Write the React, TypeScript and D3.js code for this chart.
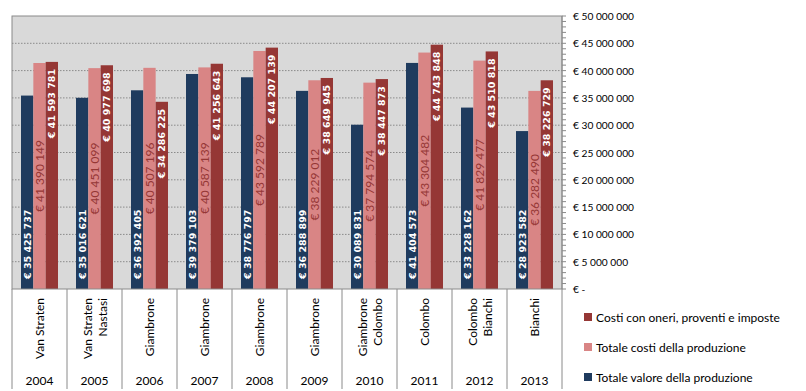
import React from "react";
import * as d3 from "d3";

const years = ["2004", "2005", "2006", "2007", "2008", "2009", "2010", "2011", "2012", "2013"];
const names: string[][] = [
  ["Van Straten"],
  ["Van Straten", "Nastasi"],
  ["Giambrone"],
  ["Giambrone"],
  ["Giambrone"],
  ["Giambrone"],
  ["Giambrone", "Colombo"],
  ["Colombo"],
  ["Colombo", "Bianchi"],
  ["Bianchi"],
];
const valoreProduzione = [35425737, 35016621, 36392405, 39379103, 38776797, 36288899, 30089831, 41404573, 33228162, 28923582];
const costiProduzione = [41390149, 40451099, 40507196, 40587139, 43592789, 38229012, 37794574, 43304482, 41829477, 36282490];
const costiOneri = [41593781, 40977698, 34286225, 41256643, 44207139, 38649945, 38447873, 44743848, 43510818, 38226729];
const seriesNames = ["Totale valore della produzione", "Totale costi della produzione", "Costi con oneri, proventi e imposte"];
const yTicks = [0, 5e6, 10e6, 15e6, 20e6, 25e6, 30e6, 35e6, 40e6, 45e6, 50e6];

const W = 806, H = 391;
const L = 12, R = 562, T = 16, B = 289;
const colors = ["#1F3B5E", "#D98585", "#953735"];
const FONT = "Lato, 'Liberation Sans', sans-serif";
const BOLDFONT = "'DejaVu Sans', Verdana, sans-serif";

function fmt(v: number) {
  if (v === 0) return "€ -";
  const s = Math.round(v).toString().replace(/\B(?=(\d{3})+(?!\d))/g, " ");
  return "€ " + s;
}

export default function App() {
  const x0 = d3.scaleBand<string>().domain(years).range([L, R]).padding(0);
  const x1 = d3.scaleBand<number>().domain([0, 1, 2]).range([9, x0.bandwidth() - 9]).padding(0);
  const y = d3.scaleLinear().domain([0, 50e6]).range([B, T]);
  const series = [valoreProduzione, costiProduzione, costiOneri];
  const minorTicks = d3.range(0, 50e6 + 1, 1e6);

  return (
    <svg width={W} height={H} style={{ position: "absolute", left: 0, top: 0 }} fontFamily={FONT}>
      <rect x={0} y={0} width={W} height={H} fill="#fff" />
      <rect x={L} y={T} width={R - L} height={B - T} fill="#D9D9D9" />
      {yTicks.slice(1, -1).map((t) => (
        <line key={t} x1={L} x2={R} y1={y(t)} y2={y(t)} stroke="#8a8a8a" strokeWidth={1} strokeDasharray="1.5,1.5" />
      ))}
      {years.map((yr, i) =>
        series.map((s, k) => {
          const bx = (x0(yr) as number) + (x1(k) as number);
          const bw = x1.bandwidth();
          const v = s[i];
          const top = y(v);
          const cx = bx + bw / 2;
          let ly: number, anchor: string, fill: string, weight: string, family: string, size: number;
          if (k === 0) {
            ly = B - 10; anchor = "start"; fill = "#fff"; weight = "bold"; family = BOLDFONT; size = 9.5;
          } else if (k === 1) {
            ly = (top + B) / 2; anchor = "middle"; fill = "#953735"; weight = "normal"; family = FONT; size = 12;
          } else {
            ly = top + 7; anchor = "end"; fill = "#fff"; weight = "bold"; family = BOLDFONT; size = 9.5;
          }
          return (
            <g key={yr + k}>
              <rect x={bx} y={top} width={bw} height={B - top} fill={colors[k]} />
              <text
                transform={`translate(${cx},${ly}) rotate(-90)`}
                textAnchor={anchor}
                dominantBaseline="central"
                fontSize={size}
                fontWeight={weight}
                fontFamily={family}
                fill={fill}
              >
                {fmt(v)}
              </text>
            </g>
          );
        })
      )}
      <rect x={L} y={T} width={R - L} height={B - T} fill="none" stroke="#8a8a8a" strokeWidth={1} />
      {/* right axis */}
      <line x1={R} x2={R} y1={T} y2={389} stroke="#8a8a8a" />
      {minorTicks.map((t) => (
        <line key={t} x1={R} x2={R + 4} y1={y(t)} y2={y(t)} stroke="#8a8a8a" />
      ))}
      {yTicks.map((t) => (
        <text key={t} x={573} y={y(t)} dominantBaseline="central" fontSize={10.2} fill="#000">
          {fmt(t)}
        </text>
      ))}
      {/* category axis */}
      {years.map((yr) => (
        <line key={yr} x1={x0(yr) as number} x2={x0(yr) as number} y1={B} y2={389} stroke="#8a8a8a" />
      ))}
      {years.map((yr, i) => {
        const cx = (x0(yr) as number) + x0.bandwidth() / 2;
        const lines = names[i];
        return (
          <g key={yr}>
            {lines.map((ln, j) => (
              <text
                key={j}
                transform={`translate(${cx + (j - (lines.length - 1) / 2) * 15},298) rotate(-90)`}
                textAnchor="end"
                dominantBaseline="central"
                fontSize={12}
                fill="#000"
              >
                {ln}
              </text>
            ))}
            <text x={cx} y={380} textAnchor="middle" dominantBaseline="central" fontSize={12} fill="#000">
              {yr}
            </text>
          </g>
        );
      })}
      {/* legend */}
      {[2, 1, 0].map((k, j) => {
        const ly = 317 + j * 30;
        return (
          <g key={k}>
            <rect x={584} y={ly - 4} width={8} height={8} fill={colors[k]} />
            <text x={596} y={ly} dominantBaseline="central" fontSize={12} fill="#000">
              {seriesNames[k]}
            </text>
          </g>
        );
      })}
    </svg>
  );
}
